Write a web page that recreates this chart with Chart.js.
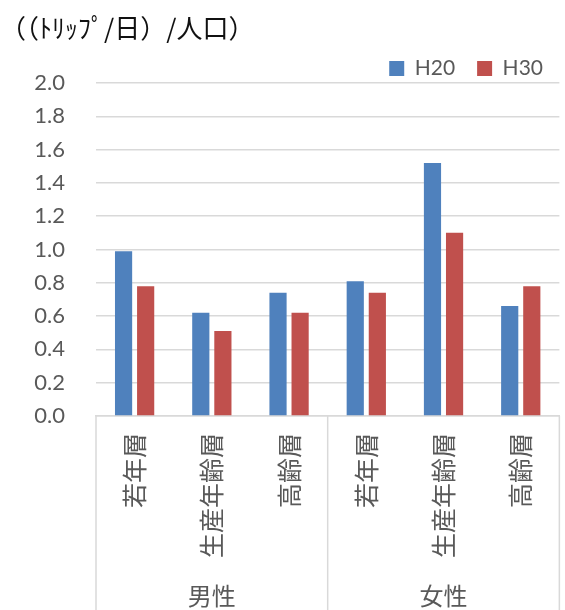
<!DOCTYPE html>
<html>
<head>
<meta charset="utf-8">
<script src="https://cdn.jsdelivr.net/npm/chart.js@4.4.1/dist/chart.umd.min.js"></script>
<style>
  html, body { margin: 0; padding: 0; background: #fff; }
  #wrap { width: 565px; height: 610px; position: relative; }
</style>
</head>
<body>
<div id="wrap"><canvas id="chart"></canvas></div>
<script>
// Trips per day per person, by sex and age band
const categories = ['若年層', '生産年齢層', '高齢層', '若年層', '生産年齢層', '高齢層'];
const groups = ['男性', '女性'];
const seriesNames = ['H20', 'H30'];
const h20 = [0.99, 0.62, 0.74, 0.81, 1.52, 0.66];
const h30 = [0.78, 0.51, 0.62, 0.74, 1.10, 0.78];
const yMin = 0;
const yMax = 2.0;
const yStep = 0.2;
const unitLabel = '（（ﾄﾘｯﾌﾟ/日）/人口）';

const TEXT = '#595959';
const GRID = '#d9d9d9';
const JP = '"Noto Sans CJK JP", sans-serif';
const NUM = 'Lato, "Noto Sans", sans-serif';

// vertical dividers between the sex groups, running below the axis
const groupDividers = {
  id: 'groupDividers',
  afterDraw(chart) {
    const { ctx, chartArea, scales: { x } } = chart;
    const per = categories.length / groups.length;
    ctx.save();
    ctx.strokeStyle = GRID;
    ctx.lineWidth = 1.5;
    for (let g = 0; g <= groups.length; g++) {
      const px = x.getPixelForValue(g * per - 0.5);
      ctx.beginPath();
      ctx.moveTo(px, chartArea.bottom);
      ctx.lineTo(px, chart.height);
      ctx.stroke();
    }
    ctx.restore();
  }
};

// the plot runs slightly past the right edge of the canvas
const OVERHANG = 3;
const overhang = {
  id: 'overhang',
  afterLayout(chart) {
    for (const id of ['x', 'x2']) {
      const s = chart.scales[id];
      s.right += OVERHANG;
      s.width += OVERHANG;
      s.configure();
    }
    chart.chartArea.right += OVERHANG;
    chart.chartArea.width += OVERHANG;
  }
};

new Chart(document.getElementById('chart'), {
  type: 'bar',
  data: {
    labels: categories,
    datasets: [
      { label: seriesNames[0], data: h20, backgroundColor: '#4f81bd', borderWidth: 0,
        categoryPercentage: 0.572, barPercentage: 0.778 },
      { label: seriesNames[1], data: h30, backgroundColor: '#c0504d', borderWidth: 0,
        categoryPercentage: 0.572, barPercentage: 0.778 }
    ]
  },
  options: {
    responsive: true,
    maintainAspectRatio: false,
    animation: false,
    layout: { padding: 0 },
    plugins: {
      title: {
        display: true,
        text: unitLabel,
        align: 'start',
        color: '#111',
        font: { family: JP, size: 26, weight: 'normal', lineHeight: 1.2 },
        padding: { top: 12.4, bottom: -7.6 }
      },
      legend: {
        position: 'top',
        align: 'end',
        maxHeight: 47,
        labels: {
          color: TEXT,
          font: { family: NUM, size: 21 },
          boxWidth: 15,
          boxHeight: 15,
          padding: 22
        }
      },
      tooltip: { enabled: false }
    },
    scales: {
      x: {
        type: 'category',
        weight: 0,
        offset: true,
        grid: { display: false, drawTicks: false },
        border: { display: true, color: GRID, width: 1.5 },
        ticks: {
          color: TEXT,
          font: { family: JP, size: 25 },
          autoSkip: false,
          maxRotation: 90,
          minRotation: 90,
          padding: 17
        },
        afterFit(s) { s.height = 160; }
      },
      x2: {
        type: 'category',
        position: 'bottom',
        weight: 1,
        labels: groups,
        offset: true,
        grid: { display: false, drawTicks: false },
        border: { display: false },
        ticks: {
          color: TEXT,
          font: { family: JP, size: 24 },
          padding: 5,
          maxRotation: 0,
          autoSkip: false
        },
        afterFit(s) { s.height = 34; }
      },
      y: {
        min: yMin,
        max: yMax,
        border: { display: false },
        grid: { color: GRID, lineWidth: 1.5, drawTicks: false },
        ticks: {
          stepSize: yStep,
          color: TEXT,
          font: { family: NUM, size: 22 },
          padding: 31,
          callback: v => Number(v).toFixed(1)
        },
        afterFit(s) { s.width = 96; }
      }
    }
  },
  plugins: [groupDividers, overhang]
});
</script>
</body>
</html>
